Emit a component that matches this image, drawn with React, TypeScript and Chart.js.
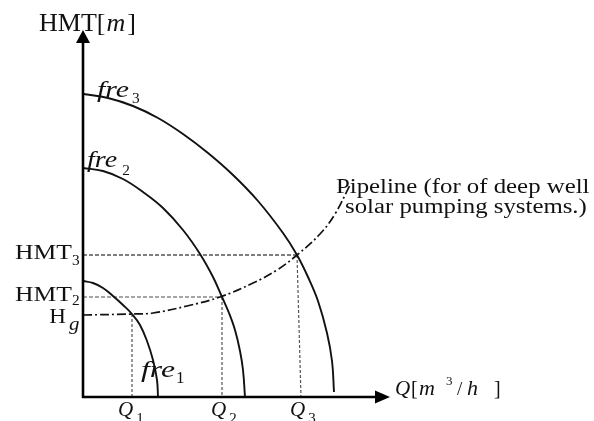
import { useEffect, useRef } from "react";
import { Chart, registerables } from "chart.js";

Chart.register(...registerables);

// Pump characteristic curves (Q in flow units, H in head units) for three drive frequencies
const fre1Q = [0, 10, 20, 30, 40, 49, 57, 64, 70, 74, 75];
const fre1H = [116, 114, 109, 101, 92, 83, 72, 56, 37, 17, 0];
const fre2Q = [0, 20, 40, 60, 80, 100, 117, 130, 139, 146, 152, 157, 160, 162];
const fre2H = [229, 226, 218, 205, 189, 167, 143, 120, 100, 84, 67, 46, 27, 0];
const fre3Q = [0, 25, 50, 75, 100, 125, 150, 175, 200, 214, 225, 235, 244, 249, 251];
const fre3H = [303, 299, 291, 279, 263, 244, 222, 196, 164, 142, 120, 96, 64, 36, 5];

// System (pipeline) curve, starting at the geodetic head Hg
const pipeQ = [0, 49, 70, 104, 137, 170, 194, 214, 237, 252, 267];
const pipeH = [82, 83, 84, 91, 100, 114, 127, 142, 163, 183, 212];

// Operating points and where their drop lines meet the flow axis
const opQ = [49, 139, 214];
const opH = [83, 100, 142];
const footQ = [49, 139, 218];

// Axis labels
const qSubs = ["1", "2", "3"];
const hMain = ["H", "HMT", "HMT"];
const hSubs = ["g", "2", "3"];
const pipeText = ["Pipeline (for of deep well", "solar pumping systems.)"];

// Axis extents (arrow tips)
const axisQMax = 307;
const axisHMax = 367;

const SERIF = "'Liberation Serif', 'Times New Roman', Times, serif";
const INK = "#111";

function txt(
  ctx: CanvasRenderingContext2D,
  s: string,
  x: number,
  y: number,
  size: number,
  italic: boolean,
  sx = 1,
  align: "left" | "right" | "center" = "left"
) {
  ctx.save();
  ctx.font = `${italic ? "italic " : ""}${size}px ${SERIF}`;
  ctx.textBaseline = "alphabetic";
  ctx.textAlign = "left";
  ctx.fillStyle = INK;
  const w = ctx.measureText(s).width * sx;
  const lx = align === "left" ? x : align === "right" ? x - w : x - w / 2;
  ctx.translate(lx, y);
  ctx.scale(sx, 1);
  ctx.fillText(s, 0, 0);
  ctx.restore();
  return w;
}

const pts = (qs: number[], hs: number[]) => qs.map((q, i) => ({ x: q, y: hs[i] }));

const axesPlugin = {
  id: "arrowAxes",
  afterDatasetsDraw(chart: any) {
    const { ctx } = chart;
    const xs = chart.scales.x;
    const ys = chart.scales.y;
    const x0 = xs.getPixelForValue(0);
    const y0 = ys.getPixelForValue(0);
    const xTip = xs.getPixelForValue(axisQMax);
    const yTip = ys.getPixelForValue(axisHMax);
    ctx.save();
    ctx.strokeStyle = "#000";
    ctx.fillStyle = "#000";
    ctx.lineWidth = 2.6;
    ctx.beginPath();
    ctx.moveTo(x0, y0 + 1);
    ctx.lineTo(x0, yTip + 10);
    ctx.moveTo(x0 - 1, y0);
    ctx.lineTo(xTip - 12, y0);
    ctx.stroke();
    // arrowheads
    ctx.beginPath();
    ctx.moveTo(x0, yTip);
    ctx.lineTo(x0 - 7, yTip + 13);
    ctx.lineTo(x0 + 7, yTip + 13);
    ctx.closePath();
    ctx.fill();
    ctx.beginPath();
    ctx.moveTo(xTip, y0);
    ctx.lineTo(xTip - 15, y0 - 6.5);
    ctx.lineTo(xTip - 15, y0 + 6.5);
    ctx.closePath();
    ctx.fill();
    ctx.restore();
  },
};

const labelsPlugin = {
  id: "diagramLabels",
  afterDraw(chart: any) {
    const { ctx } = chart;
    const xs = chart.scales.x;
    const ys = chart.scales.y;
    const px = (v: number) => xs.getPixelForValue(v);
    const py = (v: number) => ys.getPixelForValue(v);
    const x0 = px(0);
    const y0 = py(0);

    // vertical axis title HMT[m]
    {
      let x = x0 - 44;
      const b = py(axisHMax) + 1;
      x += txt(ctx, "HMT[", x, b, 26, false);
      x += 1;
      x += txt(ctx, "m", x, b, 26, true);
      x += 2;
      txt(ctx, "]", x, b, 26, false);
    }

    // horizontal axis title Q[m^3 / h]
    {
      const l = px(axisQMax) + 5;
      const b = y0 - 2;
      txt(ctx, "Q", l, b, 20, true, 1.05);
      txt(ctx, "[", l + 16, b, 20, false);
      txt(ctx, "m", l + 24, b, 21, true, 1.05);
      txt(ctx, "3", l + 51, b - 10, 13, false);
      txt(ctx, "/", l + 62, b, 19, false);
      txt(ctx, "h", l + 72, b, 21, true, 1.05);
      txt(ctx, "]", l + 99, b, 20, false);
    }

    // head labels on the vertical axis
    const hOff = [9, 4, 4];
    const subOff = [7, 4, 6];
    for (let i = 0; i < 3; i++) {
      const b = py(opH[i]) + hOff[i];
      if (i === 0) {
        txt(ctx, hMain[i], x0 - 17, b, 21, false, 1.1, "right");
        txt(ctx, hSubs[i], x0 - 14, b + subOff[i], 19, true, 1.1);
      } else {
        txt(ctx, hMain[i], x0 - 11, b, 21, false, 1.22, "right");
        txt(ctx, hSubs[i], x0 - 11, b + subOff[i], 14, false, 1.1);
      }
    }

    // flow labels under the horizontal axis
    for (let i = 0; i < 3; i++) {
      const c = px(footQ[i]);
      const l = c - 13 + (i === 0 ? -1 : 2);
      const w = txt(ctx, "Q", l, y0 + 19, 21, true);
      txt(ctx, qSubs[i], l + w + 3, y0 + 26, 15, false);
    }

    // frequency labels on each pump curve
    {
      const l3 = x0 + 14;
      const b3 = py(fre3H[0]) + 3;
      const w3 = txt(ctx, "fre", l3, b3, 23, true, 1.3);
      txt(ctx, "3", l3 + w3 + 3, b3 + 6, 14, false, 1.1);

      const l2 = x0 + 4;
      const b2 = py(fre2H[0]) - 1;
      const w2 = txt(ctx, "fre", l2, b2, 23, true, 1.22);
      txt(ctx, "2", l2 + w2 + 5, b2 + 8, 14, false, 1.1);

      const l1 = px(fre1Q[fre1Q.length - 1]) - 17;
      const b1 = y0 - 20;
      const w1 = txt(ctx, "fre", l1, b1, 24, true, 1.32);
      txt(ctx, "1", l1 + w1 + 1, b1 + 6, 17, false);
    }

    // pipeline annotation
    {
      const ex = px(pipeQ[pipeQ.length - 1]);
      const ey = py(pipeH[pipeH.length - 1]);
      txt(ctx, pipeText[0], ex - 14, ey + 8, 20, false, 1.24);
      txt(ctx, pipeText[1], ex - 5, ey + 28, 20, false, 1.24);
    }
  },
};

export default function App() {
  const ref = useRef<HTMLCanvasElement | null>(null);

  useEffect(() => {
    const canvas = ref.current;
    if (!canvas) return;

    const curve = (qs: number[], hs: number[]) => ({
      data: pts(qs, hs),
      borderColor: "#111",
      borderWidth: 1.9,
      tension: 0.4,
      pointRadius: 0,
      fill: false,
    });

    const datasets: any[] = [
      { label: "fre1", ...curve(fre1Q, fre1H) },
      { label: "fre2", ...curve(fre2Q, fre2H) },
      { label: "fre3", ...curve(fre3Q, fre3H) },
      {
        label: "Pipeline",
        data: pts(pipeQ, pipeH),
        borderColor: "#111",
        borderWidth: 1.7,
        borderDash: [9, 3, 2, 3],
        tension: 0.4,
        pointRadius: 0,
      },
      {
        label: "HMT3",
        data: [
          { x: 0, y: opH[2] },
          { x: opQ[2], y: opH[2] },
        ],
        borderColor: "#000",
        borderWidth: 1.1,
        borderDash: [4, 2],
        pointRadius: 0,
      },
      {
        label: "HMT2",
        data: [
          { x: 0, y: opH[1] },
          { x: opQ[1], y: opH[1] },
        ],
        borderColor: "#888",
        borderWidth: 1.3,
        borderDash: [4, 2],
        pointRadius: 0,
      },
      ...opQ.map((q, i) => ({
        label: "Q" + qSubs[i],
        data: [
          { x: q, y: opH[i] },
          { x: footQ[i], y: 0 },
        ],
        borderColor: "#555",
        borderWidth: 1.2,
        borderDash: [3, 2],
        pointRadius: 0,
      })),
    ];

    const chart = new Chart(canvas, {
      type: "line",
      data: { datasets },
      options: {
        animation: false,
        responsive: false,
        maintainAspectRatio: false,
        devicePixelRatio: 1,
        layout: { padding: { left: 83, top: 30, right: 204, bottom: 24 } },
        scales: {
          x: { type: "linear", min: 0, max: axisQMax, display: false },
          y: { type: "linear", min: 0, max: axisHMax, display: false },
        },
        plugins: {
          legend: { display: false },
          tooltip: { enabled: false },
        },
      },
      plugins: [axesPlugin, labelsPlugin],
    });

    // make sure the serif faces are resolved before the final paint
    let alive = true;
    const faces = ["20px 'Liberation Serif'", "italic 20px 'Liberation Serif'"];
    Promise.all(faces.map((f) => document.fonts.load(f)))
      .catch(() => undefined)
      .then(() => {
        if (alive) chart.draw();
      });

    return () => {
      alive = false;
      chart.destroy();
    };
  }, []);

  return (
    <div style={{ position: "fixed", left: 0, top: 0, width: 594, height: 421, background: "#fff" }}>
      <canvas ref={ref} width={594} height={421} style={{ width: 594, height: 421, display: "block" }} />
    </div>
  );
}
